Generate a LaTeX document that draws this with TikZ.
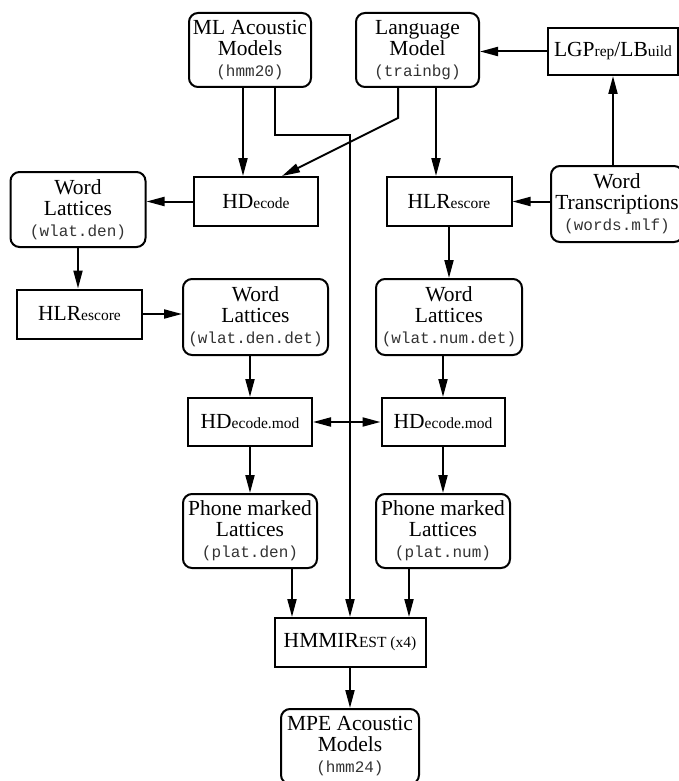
\documentclass[tikz,border=0pt]{standalone}
\usepackage{fontspec}
\setmainfont{Liberation Serif}
\setmonofont{Liberation Mono}
\usetikzlibrary{positioning, arrows.meta}

% small-cap style tool names and file names
\newcommand{\sm}[1]{{\fontsize{15.5}{15.5}\selectfont #1}}
\newcommand{\fname}[1]{{\fontsize{16}{17}\selectfont\ttfamily\color{black!80}#1}}

\begin{document}
\begin{tikzpicture}[
    x=1pt, y=-1pt,
    every node/.style={font=\rmfamily\fontsize{21.5}{21}\selectfont, inner sep=0pt},
    datafile/.style={
        draw,
        line width=2pt,
        rounded corners=9pt,
        align=center,
        minimum height=75pt,
    },
    tool/.style={
        draw,
        line width=2pt,
        minimum height=49pt,
    },
    flow/.style={
        -{Triangle[length=18pt, width=9pt]},
        line width=2pt,
    },
    both/.style={
        {Triangle[length=18pt, width=9pt]}-{Triangle[length=18pt, width=9pt]},
        line width=2pt,
    },
]
\useasboundingbox (0,0) rectangle (678,781);

% ===== Fila superior =====
\node[datafile, minimum width=122pt, minimum height=74pt] (mlhmm) at (250,50)
    {\rmfamily ML Acoustic\\\rmfamily Models\\\fname{(hmm20)}};
\node[datafile, minimum width=123pt, minimum height=74pt] (langmod) at (417.5,50)
    {\rmfamily Language\\\rmfamily Model\\\fname{(trainbg)}};
\node[tool, minimum width=130pt, minimum height=47pt] (lgprep) at (613,51.5)
    {LGP\sm{rep}/LB\sm{uild}};
\node[datafile, minimum width=132pt, minimum height=76pt] (wordtr) at (617,204)
    {\rmfamily Word\\\rmfamily Transcriptions\\\fname{(words.mlf)}};

% ===== Decodificacion =====
\node[tool, minimum width=124pt] (hdecode) at (256,201.5) {HD\sm{ecode}};
\node[datafile, minimum width=135pt] (wlden) at (78,209.5)
    {\rmfamily Word\\\rmfamily Lattices\\\fname{(wlat.den)}};
\node[tool, minimum width=125pt] (hlrden) at (79.5,314) {HLR\sm{escore}};
\node[datafile, minimum width=145pt, minimum height=76pt] (wlddet) at (255.5,317)
    {\rmfamily Word\\\rmfamily Lattices\\\fname{(wlat.den.det)}};
\node[tool, minimum width=125pt] (hlrnum) at (449,201.5) {HLR\sm{escore}};
\node[datafile, minimum width=146pt, minimum height=76pt] (wlndet) at (449,317)
    {\rmfamily Word\\\rmfamily Lattices\\\fname{(wlat.num.det)}};

% ===== Phone marking =====
\node[tool, minimum width=124pt, minimum height=48pt] (hdmodden) at (250,422) {HD\sm{ecode.mod}};
\node[tool, minimum width=123pt, minimum height=48pt] (hdmodnum) at (443,422) {HD\sm{ecode.mod}};
\node[datafile, minimum width=134pt, minimum height=74pt] (plden) at (250,531)
    {\rmfamily Phone marked\\\rmfamily Lattices\\\fname{(plat.den)}};
\node[datafile, minimum width=134pt, minimum height=74pt] (plnum) at (443,531)
    {\rmfamily Phone marked\\\rmfamily Lattices\\\fname{(plat.num)}};

% ===== Entrenamiento MPE =====
\node[tool, minimum width=151pt] (hmmirest) at (350,642.5) {HMMIR\sm{EST (x4)}};
\node[datafile, minimum width=138pt] (mpehmm) at (350,746.5)
    {\rmfamily MPE Acoustic\\\rmfamily Models\\\fname{(hmm24)}};

% ===== Conexiones =====
\draw[flow] (lgprep.west) -- (lgprep.west -| langmod.east);
\draw[flow] (lgprep.south |- wordtr.north) -- (lgprep.south);
\draw[flow] (hlrnum.east -| wordtr.west) -- (hlrnum.east);
\draw[flow] ([xshift=-7pt]mlhmm.south) -- ([xshift=-7pt]mlhmm.south |- hdecode.north);
\draw[flow] ([xshift=25pt]mlhmm.south) -- ++(0,47) -| (hmmirest.north);
\draw[flow] ([xshift=-19.5pt]langmod.south) -- ++(0,30) -- ([xshift=26pt]hdecode.north);
\draw[flow] ([xshift=18.5pt]langmod.south) -- ([xshift=18.5pt]langmod.south |- hlrnum.north);
\draw[flow] (hdecode.west) -- (hdecode.west -| wlden.east);
\draw[flow] (wlden.south) -- (wlden.south |- hlrden.north);
\draw[flow] (hlrden.east) -- (hlrden.east -| wlddet.west);
\draw[flow] (hlrnum.south) -- (hlrnum.south |- wlndet.north);
\draw[flow] (hdmodden.north |- wlddet.south) -- (hdmodden.north);
\draw[flow] (hdmodnum.north |- wlndet.south) -- (hdmodnum.north);
\draw[both] (hdmodden.east) -- (hdmodnum.west);
\draw[flow] (hdmodden.south) -- (hdmodden.south |- plden.north);
\draw[flow] (hdmodnum.south) -- (hdmodnum.south |- plnum.north);
\draw[flow] ([xshift=-58pt]hmmirest.north |- plden.south) -- ([xshift=-58pt]hmmirest.north);
\draw[flow] ([xshift=59pt]hmmirest.north |- plnum.south) -- ([xshift=59pt]hmmirest.north);
\draw[flow] (hmmirest.south) -- (mpehmm.north);

\end{tikzpicture}
\end{document}
